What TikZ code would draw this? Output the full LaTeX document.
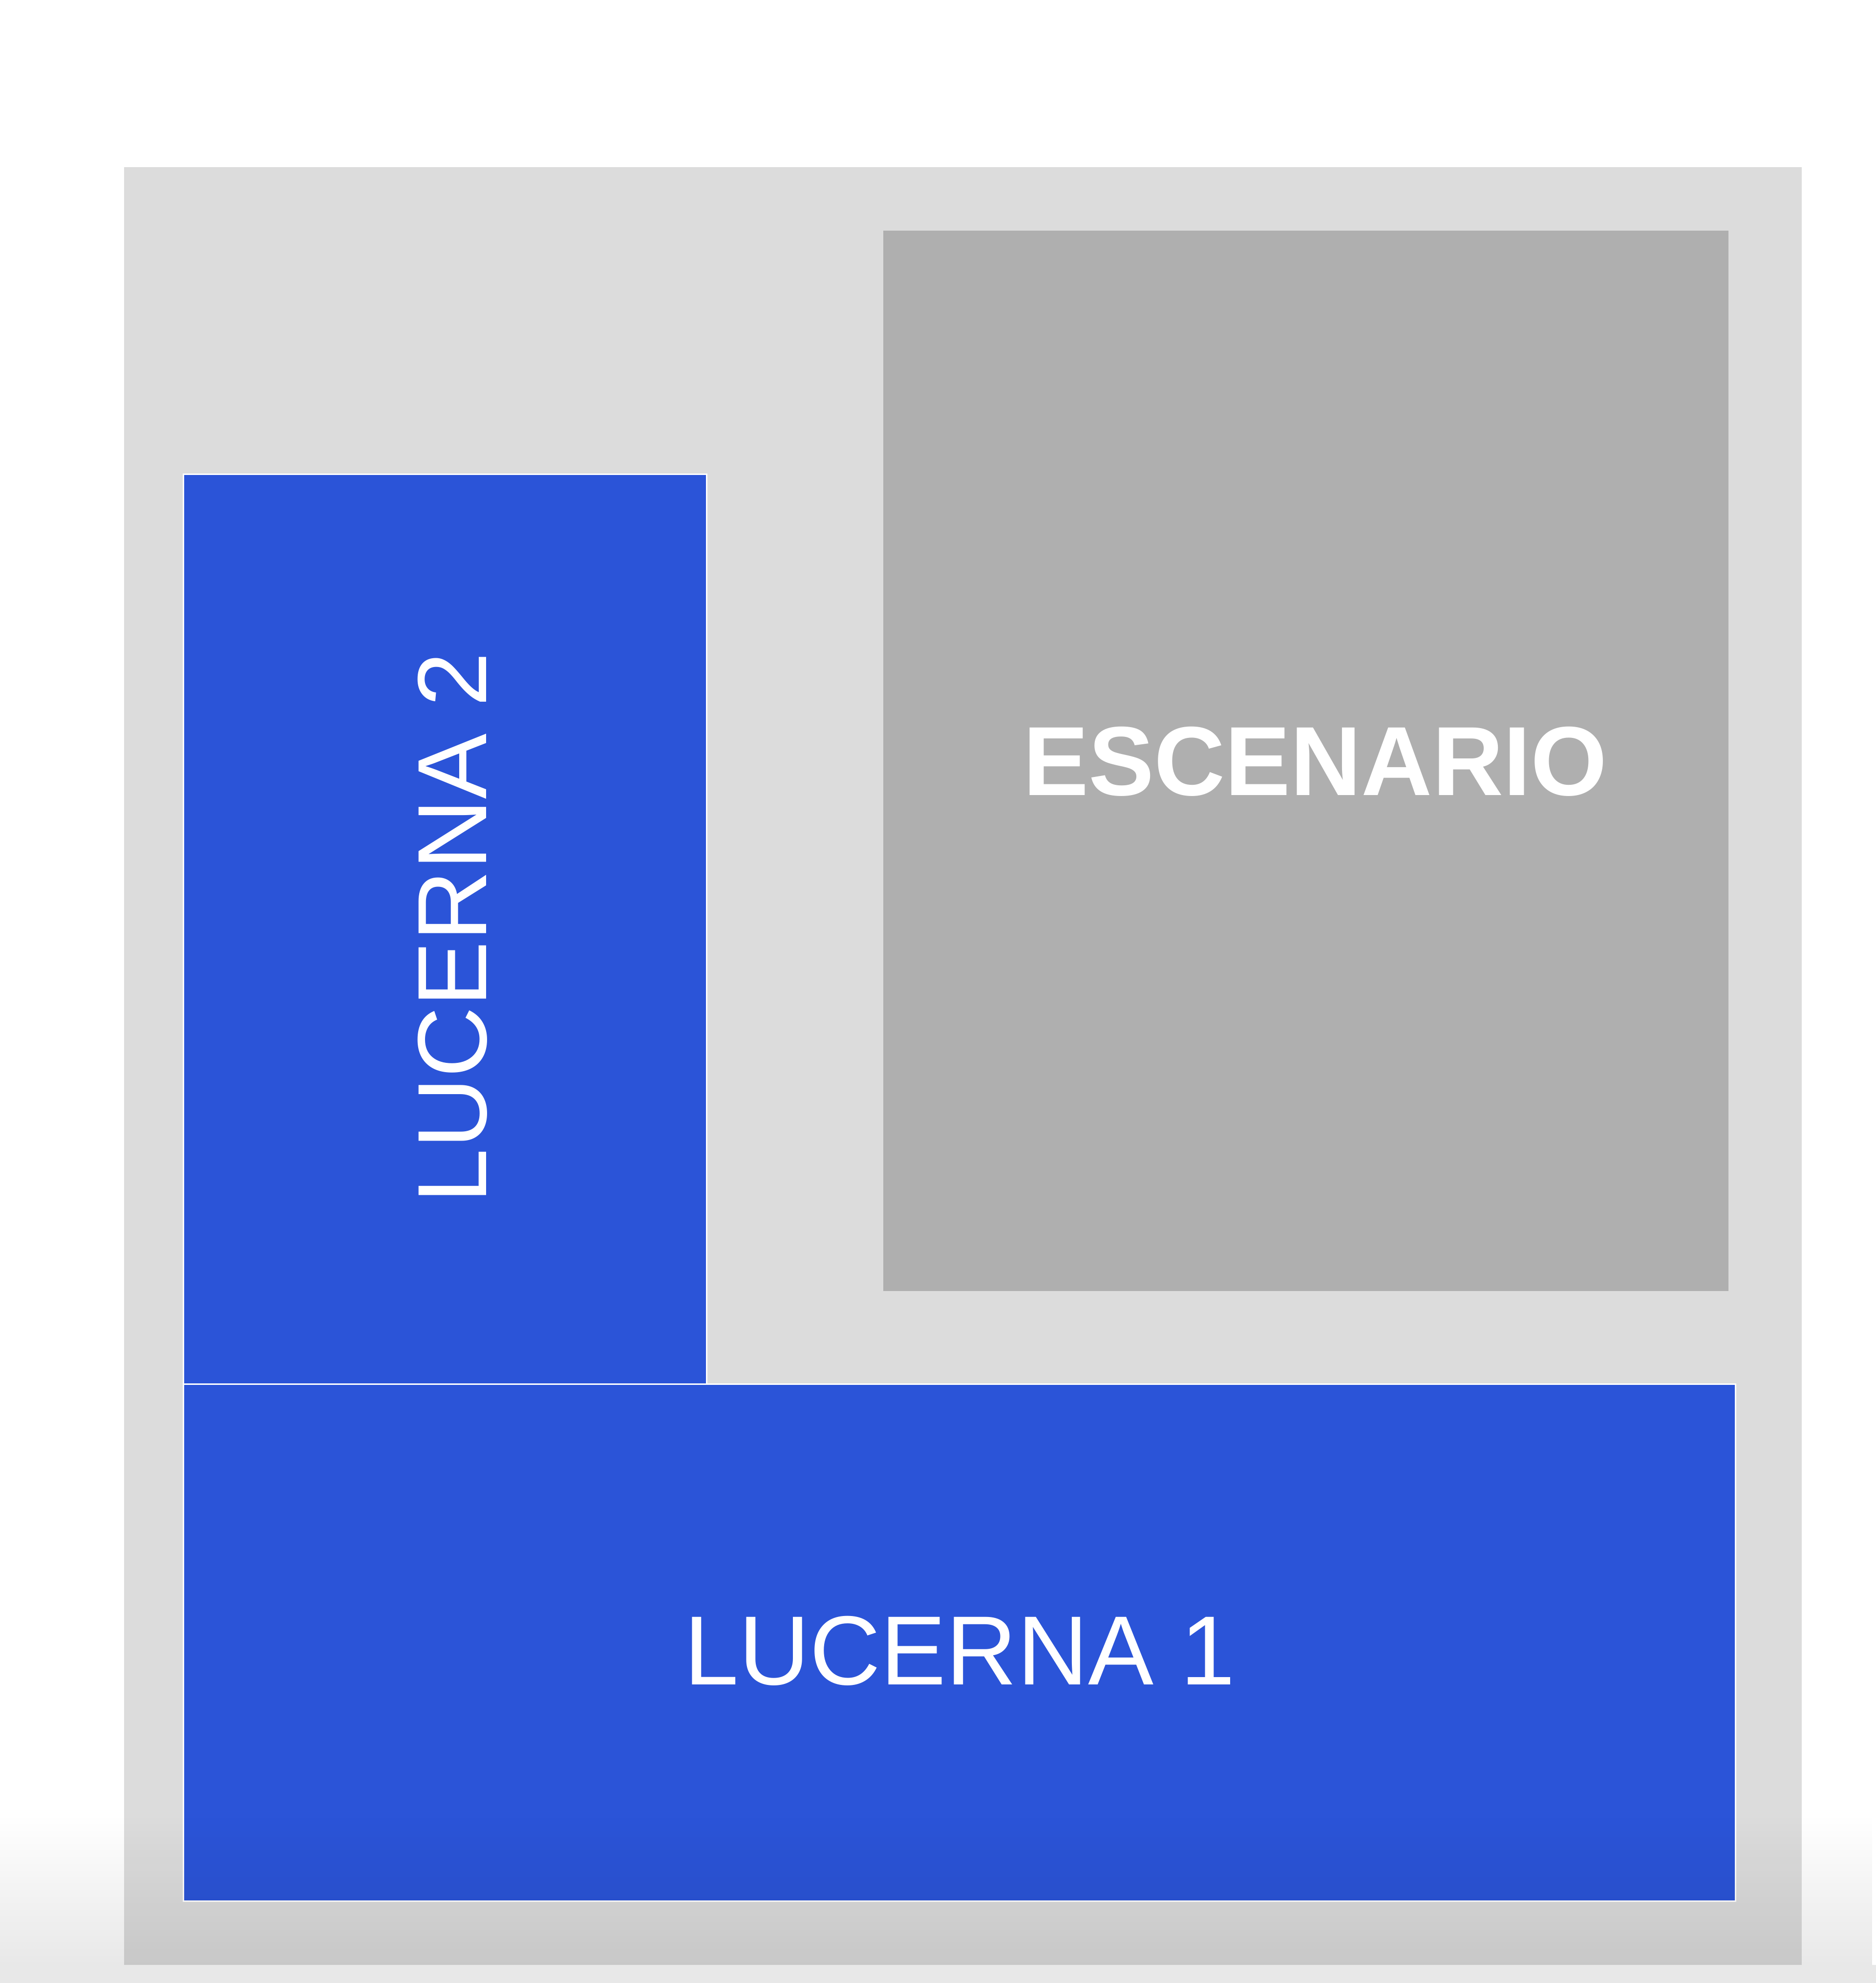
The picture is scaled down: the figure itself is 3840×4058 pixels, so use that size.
\documentclass[tikz,border=0pt]{standalone}
\usepackage{fontspec}
\setmainfont{Liberation Sans}
\usetikzlibrary{fadings}
\definecolor{pagegray}{HTML}{DCDCDC}
\definecolor{stagegray}{HTML}{AFAFAF}
\definecolor{lucblue}{HTML}{2B54D8}
\tikzset{
  area/.style={rectangle, inner sep=0pt, outer sep=0pt, anchor=north west},
  floorbox/.style={area, fill=pagegray, draw=none},
  stagebox/.style={area, fill=stagegray, draw=none},
  lightbox/.style={area, fill=lucblue, draw=white, line width=3pt},
  lbl/.style={text=white, inner sep=0pt, font=\fontsize{201}{240}\selectfont},
  lblbold/.style={lbl, font=\fontsize{201}{240}\selectfont\bfseries}
}
\begin{document}
\begin{tikzpicture}[x=1pt, y=-1pt]
\useasboundingbox (0,0) rectangle (3840,4058);
\fill[white] (0,0) rectangle (3840,4058);
% floor
\node[floorbox, minimum width=3434pt, minimum height=3679pt] (floor) at (254,342) {};
% stage
\node[stagebox, minimum width=1730pt, minimum height=2170pt] (stage) at (1808,472) {};
\node[lblbold] (stagetext) at (2692,1558) {ESCENARIO};
% skylights
\node[lightbox, minimum width=3177pt, minimum height=1058pt] (luc1) at (375,2832) {};
\node[lightbox, minimum width=1071pt, minimum height=1862pt] (luc2) at (375,970) {};
\node[lbl] (luc1text) at (1965,3378) {LUCERNA 1};
\node[lbl, rotate=90] (luc2text) at (926,1898) {LUCERNA 2};
% bottom fade of the screenshot
\fill[black, fill opacity=0.09, path fading=north] (0,3713) rectangle (3840,4021);
\fill[black, fill opacity=0.09] (0,4021) rectangle (3840,4058);
\end{tikzpicture}
\end{document}
